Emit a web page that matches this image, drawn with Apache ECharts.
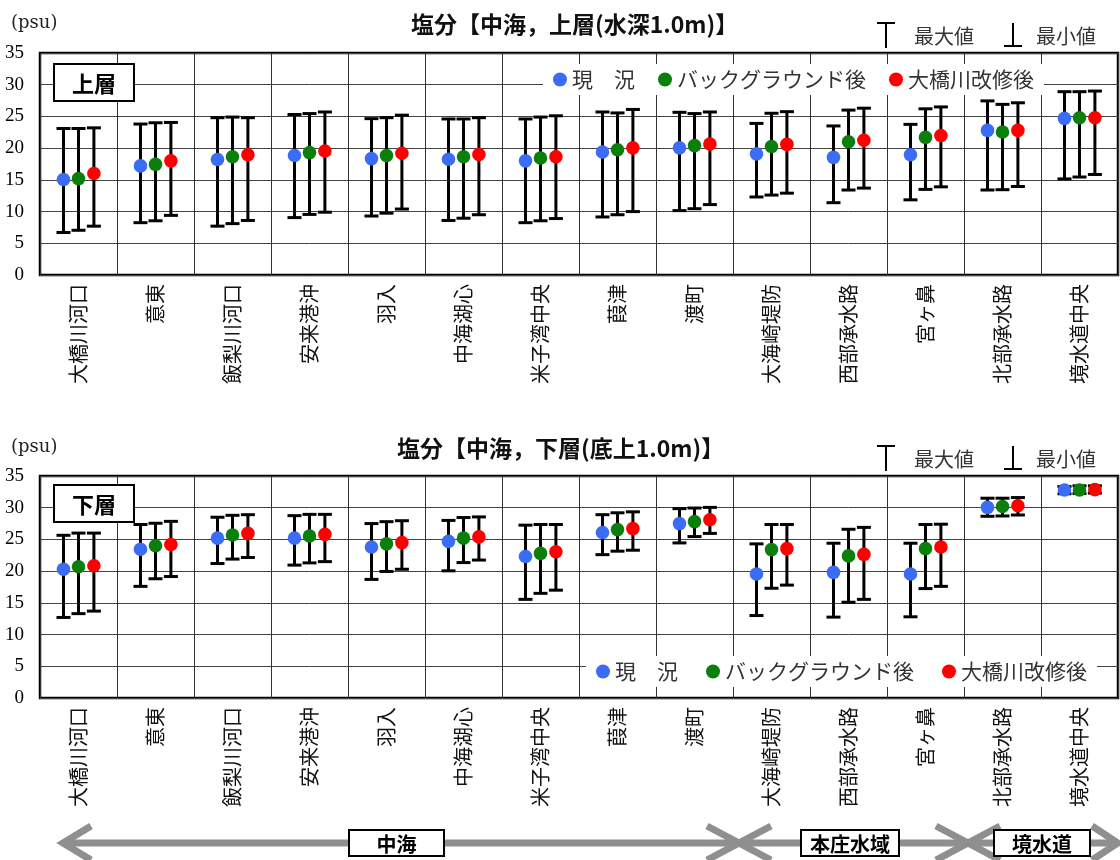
<!DOCTYPE html>
<html>
<head>
<meta charset="utf-8">
<script src="https://cdn.jsdelivr.net/npm/echarts@6/dist/echarts.min.js"></script>
<style>
html, body { margin: 0; padding: 0; background: #fff; }
#chart { width: 1120px; height: 860px; }
</style>
</head>
<body>
<div id="chart"></div>
<script>
// stations
var categories = ['大橋川河口', '意東', '飯梨川河口', '安来港沖', '羽入', '中海湖心', '米子湾中央',
  '葭津', '渡町', '大海崎堤防', '西部承水路', '宮ヶ鼻', '北部承水路', '境水道中央'];
var seriesNames = ['現　況', 'バックグラウンド後', '大橋川改修後'];
var yTicks = [0, 5, 10, 15, 20, 25, 30, 35];

// 上層 (mean / max / min)
var upNowMean = [15.05, 17.2, 18.2, 18.85, 18.35, 18.25, 18.0, 19.4, 20.05, 19.1, 18.55, 18.95, 22.8, 24.7];
var upNowMax  = [23.1, 23.8, 24.8, 25.3, 24.65, 24.6, 24.6, 25.7, 25.65, 23.9, 23.5, 23.75, 27.45, 28.9];
var upNowMin  = [6.7, 8.25, 7.7, 9.05, 9.3, 8.6, 8.25, 9.15, 10.15, 12.3, 11.4, 11.85, 13.4, 15.15];
var upBgMean  = [15.2, 17.45, 18.65, 19.3, 18.85, 18.65, 18.45, 19.75, 20.4, 20.25, 21.0, 21.7, 22.55, 24.8];
var upBgMax   = [23.1, 24.0, 24.9, 25.45, 24.8, 24.6, 24.9, 25.55, 25.45, 25.5, 26.0, 26.2, 26.9, 28.9];
var upBgMin   = [7.05, 8.55, 8.1, 9.55, 9.75, 8.95, 8.55, 9.5, 10.45, 12.6, 13.4, 13.5, 13.45, 15.45];
var upRivMean = [16.0, 18.0, 18.95, 19.55, 19.2, 19.0, 18.65, 20.05, 20.65, 20.6, 21.25, 22.0, 22.8, 24.8];
var upRivMax  = [23.2, 24.05, 24.8, 25.7, 25.2, 24.8, 25.1, 26.1, 25.7, 25.75, 26.3, 26.5, 27.15, 29.0];
var upRivMin  = [7.7, 9.4, 8.6, 9.9, 10.4, 9.5, 8.9, 10.0, 11.1, 12.9, 13.7, 13.9, 13.95, 15.85];

// 下層 (mean / max / min)
var loNowMean = [20.3, 23.45, 25.2, 25.2, 23.8, 24.7, 22.3, 26.1, 27.5, 19.55, 19.8, 19.55, 30.05, 32.8];
var loNowMax  = [25.65, 27.35, 28.5, 28.75, 27.5, 28.0, 27.25, 28.9, 29.85, 24.3, 24.4, 24.4, 31.5, 33.35];
var loNowMin  = [12.7, 17.6, 21.2, 20.95, 18.7, 20.05, 15.55, 22.6, 24.45, 13.0, 12.75, 12.8, 28.65, 32.2];
var loBgMean  = [20.7, 24.0, 25.7, 25.55, 24.3, 25.2, 22.8, 26.55, 27.8, 23.4, 22.4, 23.55, 30.2, 32.8];
var loBgMax   = [26.0, 27.55, 28.8, 28.95, 27.8, 28.45, 27.35, 29.2, 29.95, 27.35, 26.6, 27.35, 31.5, 33.45];
var loBgMin   = [13.3, 18.8, 21.9, 21.3, 19.95, 21.35, 16.5, 23.15, 25.45, 17.3, 15.1, 17.25, 28.7, 32.25];
var loRivMean = [20.85, 24.2, 25.95, 25.8, 24.5, 25.4, 23.05, 26.7, 28.1, 23.55, 22.65, 23.8, 30.3, 32.85];
var loRivMax  = [26.0, 27.85, 28.9, 28.95, 27.95, 28.55, 27.35, 29.35, 30.05, 27.35, 26.9, 27.4, 31.6, 33.45];
var loRivMin  = [13.7, 19.15, 22.15, 21.5, 20.3, 21.75, 17.0, 23.3, 25.95, 17.8, 15.55, 17.6, 28.85, 32.3];

var colors = ['#3b6cf6', '#0b7f0b', '#ff0000'];
var offsets = [-0.195, 0, 0.2];
var JP = 'Noto Sans CJK JP';

function rows(mean, max, min) {
  return categories.map(function (c, i) { return [i, mean[i], max[i], min[i]]; });
}

function errRender(off) {
  return function (params, api) {
    var i = api.value(0);
    var mid = api.coord([i, api.value(1)]);
    var hi = api.coord([i, api.value(2)]);
    var lo = api.coord([i, api.value(3)]);
    var x = mid[0] + api.size([1, 0])[0] * off;
    var cap = 7;
    var ls = { stroke: '#000', lineWidth: 3 };
    return {
      type: 'group',
      children: [
        { type: 'line', shape: { x1: x, y1: hi[1], x2: x, y2: lo[1] }, style: ls },
        { type: 'line', shape: { x1: x - cap, y1: hi[1], x2: x + cap, y2: hi[1] }, style: ls },
        { type: 'line', shape: { x1: x - cap, y1: lo[1], x2: x + cap, y2: lo[1] }, style: ls },
        { type: 'circle', z2: 10, shape: { cx: x, cy: mid[1], r: 6.8 }, style: { fill: api.visual('color') } }
      ]
    };
  };
}

function mkSeries(k, idx, mean, max, min) {
  return {
    type: 'custom',
    name: seriesNames[k],
    xAxisIndex: idx,
    yAxisIndex: idx,
    itemStyle: { color: colors[k] },
    renderItem: errRender(offsets[k]),
    encode: { x: 0, y: [1, 2, 3] },
    data: rows(mean, max, min),
    z: 3
  };
}

function xAx(idx) {
  return {
    type: 'category', gridIndex: idx, data: categories, boundaryGap: true,
    axisLine: { show: false }, axisTick: { show: false },
    splitLine: { show: true, lineStyle: { color: '#333', width: 1 } },
    axisLabel: { rotate: 90, fontSize: 20, margin: 9, color: '#111', fontFamily: JP, interval: 0 }
  };
}
function yAx(idx) {
  return {
    type: 'value', gridIndex: idx, min: yTicks[0], max: yTicks[yTicks.length - 1], interval: 5,
    axisLine: { show: false }, axisTick: { show: false },
    splitLine: { show: true, lineStyle: { color: '#444', width: 1 } },
    axisLabel: { fontSize: 19, margin: 16, color: '#000', fontFamily: 'Liberation Serif' }
  };
}

function legendAt(left, top, gap) {
  return {
    data: seriesNames, left: left, top: top, orient: 'horizontal',
    icon: 'circle', itemWidth: 14, itemHeight: 14, itemGap: gap,
    backgroundColor: '#fff', padding: [5, 10], z: 20,
    textStyle: { fontSize: 21, fontFamily: JP, color: '#333' },
    selectedMode: false
  };
}

function keyGraphics(y0) {
  var ls = { stroke: '#000', lineWidth: 2 };
  return [
    { type: 'line', shape: { x1: 877, y1: y0, x2: 895, y2: y0 }, style: ls },
    { type: 'line', shape: { x1: 886, y1: y0, x2: 886, y2: y0 + 25 }, style: ls },
    { type: 'text', x: 914, y: y0 + 13, style: { text: '最大値', fontSize: 20, fontFamily: JP, fill: '#333', verticalAlign: 'middle' } },
    { type: 'line', shape: { x1: 1013, y1: y0, x2: 1013, y2: y0 + 23 }, style: ls },
    { type: 'line', shape: { x1: 1004, y1: y0 + 23, x2: 1022, y2: y0 + 23 }, style: ls },
    { type: 'text', x: 1036, y: y0 + 13, style: { text: '最小値', fontSize: 20, fontFamily: JP, fill: '#333', verticalAlign: 'middle' } }
  ];
}

function labelBox(x, y, w, h, txt, size) {
  return [
    { type: 'rect', z: 30, shape: { x: x, y: y, width: w, height: h }, style: { fill: '#fff', stroke: '#000', lineWidth: 2 } },
    { type: 'text', z: 31, x: x + w / 2, y: y + h / 2 + 1, style: { text: txt, fontSize: size, fontWeight: 'bold', fontFamily: JP, fill: '#000', align: 'center', verticalAlign: 'middle' } }
  ];
}

var grayArrow = { stroke: '#8f8f8f', lineWidth: 7, lineJoin: 'miter' };
var arrowY = 843;
var graphics = [].concat(
  keyGraphics(23),
  keyGraphics(446),
  labelBox(54, 64, 80, 37, '上層', 22),
  labelBox(54, 485, 80, 37, '下層', 22),
  [
    { type: 'line', z: 20, shape: { x1: 64, y1: arrowY, x2: 1116, y2: arrowY }, style: grayArrow },
    { type: 'polyline', z: 20, shape: { points: [[91, 826], [63, arrowY], [91, 860]] }, style: grayArrow },
    { type: 'polyline', z: 20, shape: { points: [[707, 826], [739, arrowY], [707, 860]] }, style: grayArrow },
    { type: 'polyline', z: 20, shape: { points: [[771, 826], [739, arrowY], [771, 860]] }, style: grayArrow },
    { type: 'polyline', z: 20, shape: { points: [[936, 826], [968, arrowY], [936, 860]] }, style: grayArrow },
    { type: 'polyline', z: 20, shape: { points: [[1000, 826], [968, arrowY], [1000, 860]] }, style: grayArrow },
    { type: 'polyline', z: 20, shape: { points: [[1092, 826], [1118, arrowY], [1092, 860]] }, style: grayArrow }
  ],
  labelBox(349, 830, 95, 26, '中海', 20),
  labelBox(801, 830, 98, 26, '本庄水域', 20),
  labelBox(994, 830, 96, 26, '境水道', 20)
);

var chart = echarts.init(document.getElementById('chart'), null, { renderer: 'canvas' });
var option = {
  animation: false,
  backgroundColor: '#fff',
  textStyle: { fontFamily: JP },
  title: [
    { text: '塩分【中海，上層(水深1.0m)】', left: 406, top: 8, textStyle: { fontSize: 23, fontWeight: 'bold', fontFamily: JP, color: '#111' } },
    { text: '塩分【中海，下層(底上1.0m)】', left: 392, top: 432, textStyle: { fontSize: 23, fontWeight: 'bold', fontFamily: JP, color: '#111' } },
    { text: '(psu)', left: 6, top: 9, textStyle: { fontSize: 18, fontWeight: 'normal', fontFamily: 'DejaVu Serif', color: '#222' } },
    { text: '(psu)', left: 6, top: 433, textStyle: { fontSize: 18, fontWeight: 'normal', fontFamily: 'DejaVu Serif', color: '#222' } }
  ],
  legend: [legendAt(543, 64, 23), legendAt(586, 656, 28)],
  grid: [
    { left: 40, top: 53, width: 1078, height: 222, show: true, borderColor: '#000', borderWidth: 2.5, backgroundColor: '#fff' },
    { left: 40, top: 476, width: 1078, height: 222, show: true, borderColor: '#000', borderWidth: 2.5, backgroundColor: '#fff' }
  ],
  xAxis: [xAx(0), xAx(1)],
  yAxis: [yAx(0), yAx(1)],
  series: [
    mkSeries(0, 0, upNowMean, upNowMax, upNowMin),
    mkSeries(1, 0, upBgMean, upBgMax, upBgMin),
    mkSeries(2, 0, upRivMean, upRivMax, upRivMin),
    mkSeries(0, 1, loNowMean, loNowMax, loNowMin),
    mkSeries(1, 1, loBgMean, loBgMax, loBgMin),
    mkSeries(2, 1, loRivMean, loRivMax, loRivMin)
  ],
  graphic: graphics
};
chart.setOption(option);
</script>
</body>
</html>
